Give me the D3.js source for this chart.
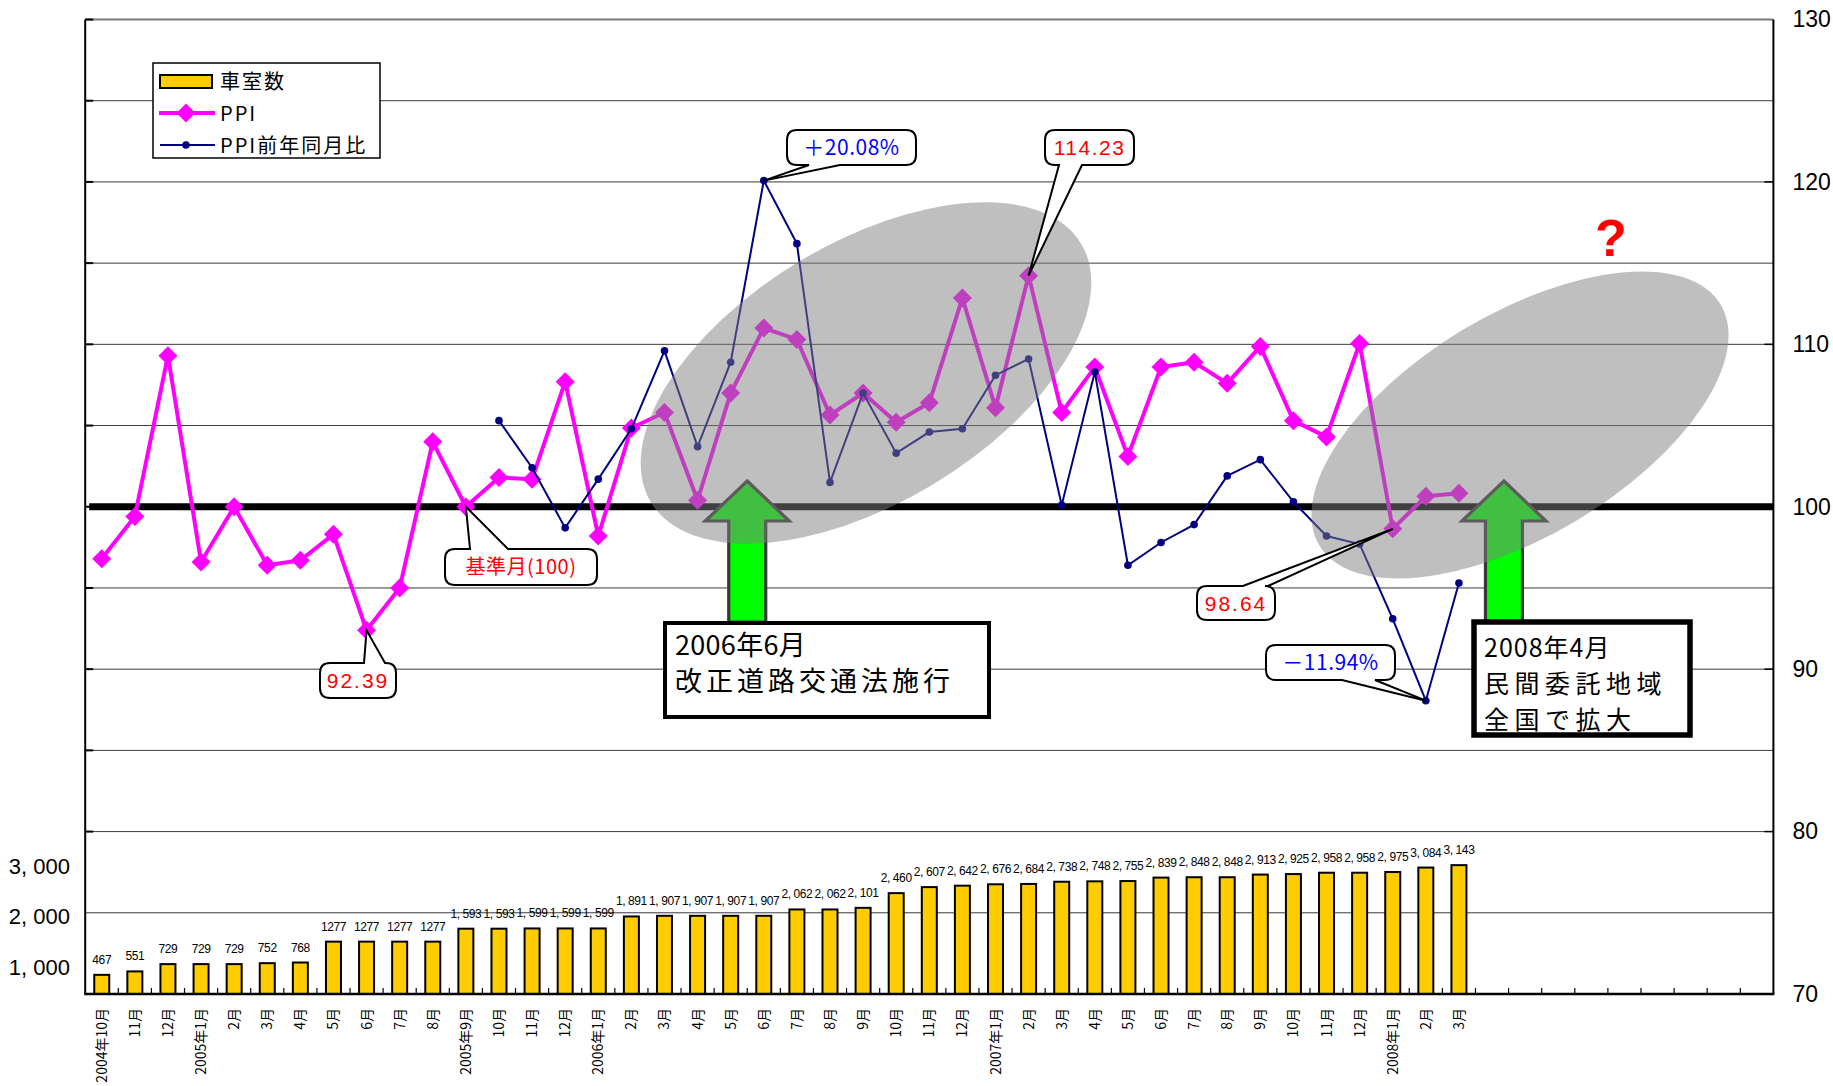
<!DOCTYPE html>
<html>
<head>
<meta charset="utf-8">
<script src="https://cdn.jsdelivr.net/npm/d3@7"></script>
<style>
  html, body { margin: 0; padding: 0; background: #fff; }
  svg { display: block; }
</style>
</head>
<body>
<svg id="chart" width="1833" height="1086"></svg>
<script>
// Months on the category axis (2004/10 – 2008/3), followed by empty slots to 2008/12
const months = [
  "2004年10月","11月","12月",
  "2005年1月","2月","3月","4月","5月","6月","7月","8月",
  "2005年9月","10月","11月","12月",
  "2006年1月","2月","3月","4月","5月","6月","7月","8月","9月","10月","11月","12月",
  "2007年1月","2月","3月","4月","5月","6月","7月","8月","9月","10月","11月","12月",
  "2008年1月","2月","3月"
];
const emptySlots = 9;

// Number of rooms (車室数)
const rooms = [
  467, 551, 729,
  729, 729, 752, 768, 1277, 1277, 1277, 1277,
  1593, 1593, 1599, 1599,
  1599, 1891, 1907, 1907, 1907, 1907, 2062, 2062, 2101, 2460, 2607, 2642,
  2676, 2684, 2738, 2748, 2755, 2839, 2848, 2848, 2913, 2925, 2958, 2958,
  2975, 3084, 3143
];
const roomLabels = [
  "467","551","729",
  "729","729","752","768","1277","1277","1277","1277",
  "1, 593","1, 593","1, 599","1, 599",
  "1, 599","1, 891","1, 907","1, 907","1, 907","1, 907","2, 062","2, 062","2, 101","2, 460","2, 607","2, 642",
  "2, 676","2, 684","2, 738","2, 748","2, 755","2, 839","2, 848","2, 848","2, 913","2, 925","2, 958","2, 958",
  "2, 975","3, 084","3, 143"
];

// PPI (2005年9月 = 100)
const ppi = [
  96.8, 99.4, 109.3,
  96.6, 100.0, 96.4, 96.7, 98.3, 92.39, 95.0, 104.0,
  100.0, 101.8, 101.7, 107.7,
  98.2, 104.85, 105.8, 100.4, 107.0, 111.0, 110.3, 105.65, 107.0, 105.2, 106.4, 112.85,
  106.1, 114.23, 105.8, 108.6, 103.1, 108.6, 108.9, 107.6, 109.87, 105.3, 104.3, 110.05,
  98.64, 100.65, 100.83
];

// PPI year-on-year ratio (starts 2005年10月)
const ppiYoYStart = 12;
const ppiYoY = [
  105.3, 102.4, 98.7,
  101.7, 104.8, 109.6, 103.7, 108.9, 120.08, 116.2, 101.5, 107.0, 103.3, 104.6, 104.8,
  108.1, 109.1, 100.1, 108.3, 96.4, 97.8, 98.9, 101.9, 102.9, 100.3, 98.2, 97.7,
  93.1, 88.06, 95.3
];

const rightTicks = [70, 80, 90, 100, 110, 120, 130];
const gridValues = [75, 80, 85, 90, 95, 105, 110, 115, 120, 125];
const leftTicks = [1000, 2000, 3000];

const svg = d3.select("#chart");
const W = 1833, H = 1086;
const plot = { left: 85.2, right: 1773.4, top: 19.5, bottom: 994 };

const nCat = months.length + emptySlots;
const x = d3.scaleBand()
  .domain(d3.range(nCat))
  .range([plot.left, plot.right])
  .paddingInner(0).paddingOuter(0);
const bw = x.bandwidth();
const cx = i => x(i) + bw / 2;

const y = d3.scaleLinear().domain([70, 130]).range([plot.bottom, plot.top]);
const yBar = d3.scaleLinear().domain([0, 2000]).range([plot.bottom, 912]);
const yLeftLabel = d3.scaleLinear().domain([1000, 3000]).range([967, 866]);

svg.append("rect").attr("width", W).attr("height", H).attr("fill", "#fff");

// Horizontal gridlines every 5 points
svg.append("g").selectAll("line").data(gridValues).join("line")
  .attr("x1", plot.left).attr("x2", plot.right)
  .attr("y1", d => y(d)).attr("y2", d => y(d))
  .attr("stroke", "#3a3a3a").attr("stroke-width", 1);
svg.append("line")
  .attr("x1", plot.left).attr("x2", plot.right)
  .attr("y1", y(130)).attr("y2", y(130))
  .attr("stroke", "#7a7a7a").attr("stroke-width", 2);

// Bars: number of rooms
const barW = 15;
svg.append("g").selectAll("rect").data(rooms).join("rect")
  .attr("x", (d, i) => cx(i) - barW / 2)
  .attr("width", barW)
  .attr("y", d => yBar(d))
  .attr("height", d => yBar(0) - yBar(d))
  .attr("fill", "#FFCC00")
  .attr("stroke", "#000").attr("stroke-width", 2);

svg.append("g").selectAll("text").data(rooms).join("text")
  .attr("x", (d, i) => cx(i))
  .attr("y", d => yBar(d) - 11)
  .attr("text-anchor", "middle")
  .attr("font-family", "'Liberation Sans', Arial, sans-serif")
  .attr("font-size", 12)
  .attr("letter-spacing", -0.4)
  .attr("fill", "#000")
  .text((d, i) => roomLabels[i]);

// Base month reference line (100)
svg.append("line")
  .attr("x1", plot.left + 4).attr("x2", plot.right)
  .attr("y1", y(100)).attr("y2", y(100))
  .attr("stroke", "#000").attr("stroke-width", 7);

// Axes frame
svg.append("line").attr("x1", plot.left).attr("x2", plot.left)
  .attr("y1", plot.top).attr("y2", plot.bottom)
  .attr("stroke", "#000").attr("stroke-width", 2);
svg.append("line").attr("x1", plot.right).attr("x2", plot.right)
  .attr("y1", plot.top).attr("y2", plot.bottom)
  .attr("stroke", "#000").attr("stroke-width", 2);
svg.append("line").attr("x1", plot.left - 1).attr("x2", plot.right + 1)
  .attr("y1", plot.bottom).attr("y2", plot.bottom)
  .attr("stroke", "#000").attr("stroke-width", 2.5);

// Left inner ticks every 5 points
svg.append("g").selectAll("line").data(d3.range(80, 131, 5)).join("line")
  .attr("x1", plot.left).attr("x2", plot.left + 8)
  .attr("y1", d => y(d)).attr("y2", d => y(d))
  .attr("stroke", "#000").attr("stroke-width", 2);

// Right axis (PPI)
const rightAxis = d3.axisRight(y).tickValues(rightTicks).tickSize(0).tickPadding(19);
const ra = svg.append("g").attr("transform", `translate(${plot.right},0)`).call(rightAxis);
ra.select(".domain").remove();
ra.selectAll("text")
  .attr("font-family", "'Liberation Sans', Arial, sans-serif")
  .attr("font-size", 23).attr("fill", "#000");
svg.append("g").selectAll("line").data(rightTicks.slice(1, -1)).join("line")
  .attr("x1", plot.right - 9).attr("x2", plot.right)
  .attr("y1", d => y(d)).attr("y2", d => y(d))
  .attr("stroke", "#000").attr("stroke-width", 1.5);

// Left labels for the room counts
svg.append("g").selectAll("text").data(leftTicks).join("text")
  .attr("x", 70).attr("y", d => yLeftLabel(d))
  .attr("dy", "0.36em")
  .attr("text-anchor", "end")
  .attr("font-family", "'Liberation Sans', Arial, sans-serif")
  .attr("font-size", 22)
  .attr("fill", "#000")
  .text(d => d3.format(",")(d).replace(",", ", "));

// Category boundary ticks (inside)
svg.append("g").selectAll("line").data(d3.range(1, nCat)).join("line")
  .attr("x1", d => x(d)).attr("x2", d => x(d))
  .attr("y1", plot.bottom).attr("y2", plot.bottom - 6)
  .attr("stroke", "#000").attr("stroke-width", 1.2);

// Month labels, rotated
svg.append("g").selectAll("text").data(months).join("text")
  .attr("transform", (d, i) => `translate(${cx(i) + 5},1008) rotate(-90)`)
  .attr("text-anchor", "end")
  .attr("font-family", "'Noto Sans CJK JP', sans-serif")
  .attr("font-size", 14)
  .attr("fill", "#000")
  .text(d => d);

// PPI line with diamond markers
const ppiLine = d3.line().x((d, i) => cx(i)).y(d => y(d));
svg.append("path").datum(ppi)
  .attr("d", ppiLine)
  .attr("fill", "none").attr("stroke", "#FF00FF").attr("stroke-width", 4)
  .attr("stroke-linejoin", "round");
const diamond = "M0,-9.5L9.5,0L0,9.5L-9.5,0Z";
svg.append("g").selectAll("path").data(ppi).join("path")
  .attr("transform", (d, i) => `translate(${cx(i)},${y(d)})`)
  .attr("d", diamond).attr("fill", "#FF00FF");

// PPI year-on-year line
const yoyLine = d3.line().x((d, i) => cx(i + ppiYoYStart)).y(d => y(d));
svg.append("path").datum(ppiYoY)
  .attr("d", yoyLine)
  .attr("fill", "none").attr("stroke", "#000080").attr("stroke-width", 2);
svg.append("g").selectAll("circle").data(ppiYoY).join("circle")
  .attr("cx", (d, i) => cx(i + ppiYoYStart)).attr("cy", d => y(d))
  .attr("r", 3.8).attr("fill", "#000080");

// Upward arrows marking the two events
function arrow(tipX, tipY, baseY) {
  const hw = 42, hh = 40, sw = 18.5;
  const p = [
    [tipX, tipY], [tipX + hw, tipY + hh], [tipX + sw, tipY + hh],
    [tipX + sw, baseY], [tipX - sw, baseY], [tipX - sw, tipY + hh],
    [tipX - hw, tipY + hh]
  ];
  svg.append("path")
    .attr("d", "M" + p.map(q => q.join(",")).join("L") + "Z")
    .attr("fill", "#00FF00").attr("stroke", "#383838").attr("stroke-width", 3.2)
    .attr("stroke-linejoin", "miter");
}
arrow(x(20), 481, 622);
arrow(x(42) + bw * 0.86, 481, 622);

// Translucent highlight ellipses
const ellipses = [
  { cx: 866, cy: 373, rx: 251, ry: 130, rot: -31 },
  { cx: 1520, cy: 425, rx: 234, ry: 111, rot: -31 }
];
svg.append("g").selectAll("ellipse").data(ellipses).join("ellipse")
  .attr("transform", d => `translate(${d.cx},${d.cy}) rotate(${d.rot})`)
  .attr("rx", d => d.rx).attr("ry", d => d.ry)
  .attr("fill", "#808080").attr("fill-opacity", 0.5);

// Event boxes
function eventBox(bx, by, bwid, bh, sw, size, lines) {
  svg.append("rect").attr("x", bx).attr("y", by).attr("width", bwid).attr("height", bh)
    .attr("fill", "#fff").attr("stroke", "#000").attr("stroke-width", sw);
  lines.forEach(l => {
    svg.append("text").attr("x", bx + 10).attr("y", l.y)
      .attr("font-family", "'Noto Sans CJK JP', sans-serif")
      .attr("font-size", size).attr("letter-spacing", l.ls)
      .attr("fill", "#000").text(l.t);
  });
}
eventBox(665, 623, 324, 94, 4, 27, [
  { t: "2006年6月", y: 655, ls: 0.3 },
  { t: "改正道路交通法施行", y: 691, ls: 4 }
]);
eventBox(1474, 622, 216, 113, 5.5, 25, [
  { t: "2008年4月", y: 657, ls: 1 },
  { t: "民間委託地域", y: 693, ls: 5.5 },
  { t: "全国で拡大", y: 729, ls: 5.5 }
]);

// Rounded callouts with pointers
function callout(o) {
  const { bx, by, w, h, side, b1, b2, tip } = o;
  const r = 10;
  let d = `M${bx + r},${by}`;
  if (side === "top") d += `L${b1},${by}L${tip[0]},${tip[1]}L${b2},${by}`;
  d += `L${bx + w - r},${by}Q${bx + w},${by} ${bx + w},${by + r}`;
  d += `L${bx + w},${by + h - r}Q${bx + w},${by + h} ${bx + w - r},${by + h}`;
  if (side === "bottom") d += `L${b2},${by + h}L${tip[0]},${tip[1]}L${b1},${by + h}`;
  d += `L${bx + r},${by + h}Q${bx},${by + h} ${bx},${by + h - r}`;
  d += `L${bx},${by + r}Q${bx},${by} ${bx + r},${by}Z`;
  svg.append("path").attr("d", d)
    .attr("fill", "#fff").attr("stroke", "#000").attr("stroke-width", 2)
    .attr("stroke-linejoin", "miter");
  svg.append("text")
    .attr("x", bx + w / 2).attr("y", by + h / 2)
    .attr("dy", "0.36em").attr("text-anchor", "middle")
    .attr("font-family", o.font)
    .attr("font-size", o.size).attr("letter-spacing", o.ls)
    .attr("fill", o.color).text(o.text);
}
const numFont = "'Liberation Sans', Arial, sans-serif";
const jpFont = "'Noto Sans CJK JP', sans-serif";

callout({ bx: 320, by: 663, w: 76, h: 35, side: "top", b1: 364, b2: 385,
  tip: [cx(8), y(ppi[8])], text: "92.39", color: "#FF0000", font: numFont, size: 21, ls: 2 });
callout({ bx: 445, by: 549, w: 152, h: 36, side: "top", b1: 470, b2: 508,
  tip: [cx(11), y(ppi[11])], text: "基準月(100)", color: "#FF0000", font: jpFont, size: 20, ls: 0.5 });
callout({ bx: 787, by: 130, w: 129, h: 35, side: "bottom", b1: 809, b2: 840,
  tip: [cx(20), y(ppiYoY[20 - ppiYoYStart])], text: "＋20.08%", color: "#0000FF", font: jpFont, size: 21, ls: 0.5 });
callout({ bx: 1045, by: 130, w: 89, h: 35, side: "bottom", b1: 1059, b2: 1082,
  tip: [cx(28), y(ppi[28])], text: "114.23", color: "#FF0000", font: numFont, size: 21, ls: 1.5 });
callout({ bx: 1197, by: 586, w: 78, h: 34, side: "top", b1: 1243, b2: 1268,
  tip: [cx(39), y(ppi[39])], text: "98.64", color: "#FF0000", font: numFont, size: 21, ls: 2 });
callout({ bx: 1266, by: 645, w: 129, h: 35, side: "bottom", b1: 1342, b2: 1375,
  tip: [cx(40), y(ppiYoY[40 - ppiYoYStart])], text: "－11.94%", color: "#0000FF", font: jpFont, size: 21, ls: 0.5 });

// Question mark over the outlook area
svg.append("text").attr("x", 1611).attr("y", 256)
  .attr("text-anchor", "middle")
  .attr("font-family", "'Liberation Sans', Arial, sans-serif")
  .attr("font-weight", "bold").attr("font-size", 52)
  .attr("fill", "#FF0000").text("?");

// Legend
const lg = svg.append("g");
lg.append("rect").attr("x", 153).attr("y", 63).attr("width", 227).attr("height", 95)
  .attr("fill", "#fff").attr("stroke", "#000").attr("stroke-width", 1.5);
lg.append("rect").attr("x", 160).attr("y", 75).attr("width", 52).attr("height", 13)
  .attr("fill", "#FFCC00").attr("stroke", "#000").attr("stroke-width", 2);
lg.append("line").attr("x1", 159).attr("x2", 215).attr("y1", 113).attr("y2", 113)
  .attr("stroke", "#FF00FF").attr("stroke-width", 4);
lg.append("path").attr("transform", "translate(186,113)").attr("d", diamond).attr("fill", "#FF00FF");
lg.append("line").attr("x1", 160).attr("x2", 215).attr("y1", 145).attr("y2", 145)
  .attr("stroke", "#000080").attr("stroke-width", 2);
lg.append("circle").attr("cx", 186).attr("cy", 145).attr("r", 3.8).attr("fill", "#000080");
[["車室数", 82], ["PPI", 114], ["PPI前年同月比", 146]].forEach(([t, yy]) => {
  lg.append("text").attr("x", 220).attr("y", yy).attr("dy", "0.36em")
    .attr("font-family", jpFont).attr("font-size", 20).attr("letter-spacing", 2)
    .attr("fill", "#000").text(t);
});
</script>
</body>
</html>
